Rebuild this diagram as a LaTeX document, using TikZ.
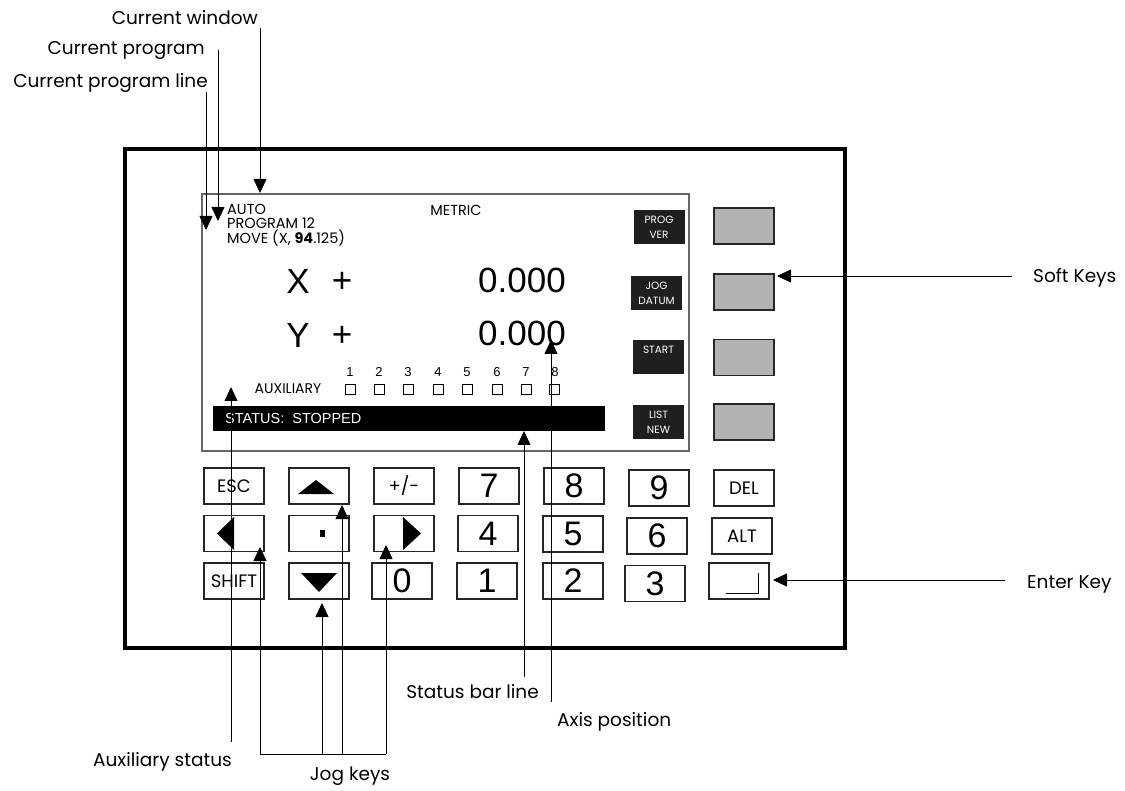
\documentclass[tikz,border=0pt]{standalone}
\usepackage{fontspec}
\setmainfont{Poppins}
\newfontfamily\arialfont{Liberation Sans}
\usetikzlibrary{arrows.meta,positioning}

\tikzset{
  lead/.style={line width=0.8pt,-{Triangle[length=14pt,width=13pt]}},
  callout/.style={inner sep=0pt,text height=13pt,text depth=0pt,font=\fontsize{18.5}{22}\selectfont},
  keybox/.style={draw=black!85,line width=1.1pt,minimum width=60pt,minimum height=36pt,inner sep=0pt},
  keytext/.style={keybox,font=\fontsize{18}{20}\selectfont},
  keydigit/.style={keybox,font=\arialfont\fontsize{34}{34}\selectfont},
  softkey/.style={keybox,fill=black!30},
  screenkey/.style={fill=black!88,text=white,minimum width=51pt,minimum height=34pt,inner sep=0pt,align=center,font=\fontsize{10.5}{15}\selectfont},
  readout/.style={inner sep=0pt,font=\arialfont\fontsize{35}{35}\selectfont},
  auxbox/.style={draw,line width=0.7pt,minimum size=10pt,inner sep=0pt},
  auxnum/.style={inner sep=0pt,font=\arialfont\fontsize{13}{13}\selectfont},
}

\begin{document}
\begin{tikzpicture}[x=1pt,y=-1pt]
  \useasboundingbox (0,0) rectangle (1125,791);

  % panel and display
  \node[draw,line width=4.5pt,minimum width=720pt,minimum height=499pt,inner sep=0pt,outer sep=0pt,anchor=north west] (panel) at (125,149) {};
  \node[draw=black!60,line width=1.3pt,minimum width=487pt,minimum height=257pt,inner sep=0pt,outer sep=0pt,anchor=north west] (screen) at (202,194) {};

  \node[anchor=north west,align=left,inner sep=0pt,font=\fontsize{14.5}{14.5}\selectfont] (mode) at (227,204) {AUTO\\PROGRAM 12\\MOVE (X, \textbf{94}.125)};
  \node[inner sep=0pt,font=\fontsize{14.5}{14.5}\selectfont] (metric) at (456,210) {METRIC};

  \node[readout] (xaxis) at (298,281) {X};
  \node[readout] (xsign) at (342,282) {+};
  \node[readout] (xval) at (522,280) {0.000};
  \node[readout] (yaxis) at (298,335) {Y};
  \node[readout] (ysign) at (342,336) {+};
  \node[readout] (yval) at (522,333) {0.000};

  \node[inner sep=0pt,font=\fontsize{14}{14}\selectfont] (auxlabel) at (288,389) {AUXILIARY};
  \node[auxnum] (num1) at (350,372) {1};
  \node[auxnum] (num2) at (379,372) {2};
  \node[auxnum] (num3) at (408,372) {3};
  \node[auxnum] (num4) at (438,372) {4};
  \node[auxnum] (num5) at (467,372) {5};
  \node[auxnum] (num6) at (497,372) {6};
  \node[auxnum] (num7) at (526,372) {7};
  \node[auxnum] (num8) at (555,372) {8};
  \node[auxbox] (aux1) at (350,389) {};
  \node[auxbox] (aux2) at (379,389) {};
  \node[auxbox] (aux3) at (408,389) {};
  \node[auxbox] (aux4) at (438,389) {};
  \node[auxbox] (aux5) at (467,389) {};
  \node[auxbox] (aux6) at (497,389) {};
  \node[auxbox] (aux7) at (526,389) {};
  \node[auxbox] (aux8) at (554,389) {};

  \node[fill=black,minimum width=392pt,minimum height=25pt,inner sep=0pt,outer sep=0pt,anchor=north west] (statusbar) at (213,406) {};
  \node[text=white,inner sep=0pt,font=\arialfont\fontsize{14.5}{14.5}\selectfont,right=12pt of statusbar.west] (statustext) {STATUS:\ \ STOPPED};

  \node[screenkey] (progver) at (659,227) {PROG\\VER};
  \node[screenkey] (jogdatum) at (656.5,293) {JOG\\DATUM};
  \node[screenkey] (start) at (658.5,357) {START\\\mbox{}};
  \node[screenkey] (listnew) at (658.5,422.5) {LIST\\NEW};

  % soft keys
  \node[softkey] (soft1) at (744,226) {};
  \node[softkey] (soft2) at (744,292) {};
  \node[softkey] (soft3) at (744,357.5) {};
  \node[softkey] (soft4) at (744,422) {};

  % keypad
  \node[keytext] (esc) at (234,486) {ESC};
  \node[keybox] (up) at (319,486) {};
  \node[keytext] (sign) at (404,486) {+/-};
  \node[keydigit] (k7) at (489,486) {7};
  \node[keydigit] (k8) at (574,486) {8};
  \node[keydigit] (k9) at (659,488) {9};
  \node[keytext] (del) at (744,488) {DEL};
  \node[keybox] (left) at (234,533.5) {};
  \node[keybox] (dot) at (319,533.5) {};
  \node[keybox] (right) at (404,533.5) {};
  \node[keydigit] (k4) at (488,533.5) {4};
  \node[keydigit] (k5) at (573,534) {5};
  \node[keydigit] (k6) at (657,536) {6};
  \node[keytext] (alt) at (742,536) {ALT};
  \node[keytext] (shift) at (234,581) {SHIFT};
  \node[keybox] (down) at (319,581) {};
  \node[keydigit] (k0) at (402,581) {0};
  \node[keydigit] (k1) at (487,581) {1};
  \node[keydigit] (k2) at (573,581) {2};
  \node[keydigit] (k3) at (655,583.5) {3};
  \node[keybox] (enter) at (739,581) {};

  \fill ([shift={(-21,8)}]up.center) -- ++(36,0) -- ++(-18,-14) -- cycle;
  \fill ([shift={(-18,-8)}]down.center) -- ++(36,0) -- ++(-18,19) -- cycle;
  \fill ([shift={(-17,0)}]left.center) -- ++(17,-16.5) -- ++(0,33) -- cycle;
  \fill ([shift={(17,0)}]right.center) -- ++(-18,-16.5) -- ++(0,33) -- cycle;
  \fill ([shift={(1,-3.5)}]dot.center) rectangle ++(5,7);
  \draw[line width=1pt] ([shift={(-13,12)}]enter.center) -- ++(32,0) -- ++(0,-20);

  % callouts
  \node[callout,anchor=east] (lblWindow) at (258,18) {Current window};
  \node[callout,anchor=east] (lblProgram) at (205,48.5) {Current program};
  \node[callout,anchor=east] (lblLine) at (208,81) {Current program line};
  \node[callout,anchor=east] (lblAux) at (232,760) {Auxiliary status};
  \node[callout] (lblJog) at (350,774) {Jog keys};
  \node[callout,anchor=east] (lblStatus) at (539,692) {Status bar line};
  \node[callout,anchor=west] (lblAxis) at (557,720) {Axis position};
  \node[callout,anchor=west] (lblSoft) at (1033,276) {Soft Keys};
  \node[callout,anchor=west] (lblEnter) at (1027,582) {Enter Key};

  \coordinate (winTop) at (260,28);
  \coordinate (winTip) at (260,193);
  \coordinate (progTop) at (218,50);
  \coordinate (progTip) at (218,221);
  \coordinate (lineTop) at (206,92);
  \coordinate (lineTip) at (206,230);
  \coordinate (auxBottom) at (231,742);
  \coordinate (auxTip) at (231,387);
  \coordinate (jogLeft) at (260,754);
  \coordinate (jogRight) at (386,754);
  \coordinate (leftTip) at (260,547);
  \coordinate (downTip) at (322,603);
  \coordinate (upTip) at (342,505);
  \coordinate (rightTip) at (386,545);
  \coordinate (statBottom) at (524,677);
  \coordinate (statTip) at (524,431);
  \coordinate (axisBottom) at (551,702);
  \coordinate (axisTip) at (551,340);
  \coordinate (softTail) at (1012,276);
  \coordinate (softTip) at (777,276);
  \coordinate (enterTail) at (1005,580);
  \coordinate (enterTip) at (773,580);

  \draw[lead] (winTop) -- (winTip);
  \draw[lead] (progTop) -- (progTip);
  \draw[lead] (lineTop) -- (lineTip);
  \draw[lead] (auxBottom) -- (auxTip);
  \draw[line width=0.8pt] (jogLeft) -- (jogRight);
  \draw[lead] (jogLeft) -- (leftTip);
  \draw[lead] (jogRight) -- (rightTip);
  \draw[lead] (downTip |- jogLeft) -- (downTip);
  \draw[lead] (upTip |- jogLeft) -- (upTip);
  \draw[lead] (statBottom) -- (statTip);
  \draw[lead] (axisBottom) -- (axisTip);
  \draw[lead] (softTail) -- (softTip);
  \draw[lead] (enterTail) -- (enterTip);
\end{tikzpicture}
\end{document}
